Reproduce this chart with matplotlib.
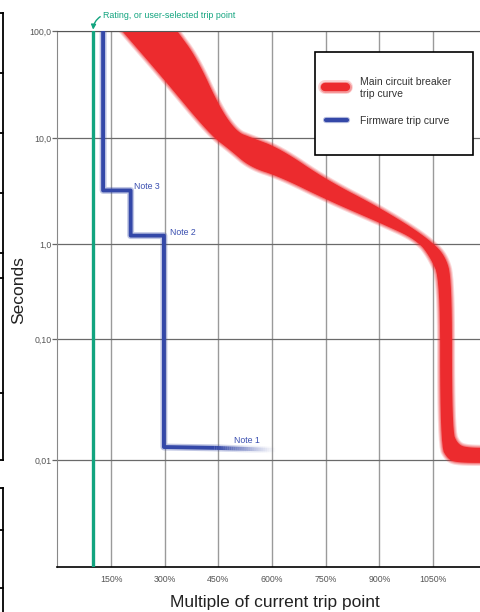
import numpy as np
import matplotlib
matplotlib.use("Agg")
import matplotlib.pyplot as plt
from matplotlib.lines import Line2D
from matplotlib.patches import Rectangle
from matplotlib.collections import LineCollection

plt.rcParams['font.family'] = ['Liberation Sans', 'DejaVu Sans']

# ── Data ──────────────────────────────────────────────────────────
rating_pct = 100

# firmware trip curve (percent of trip point, seconds)
fw_pct = [128, 128, 205, 205, 298, 298, 440]
fw_sec = [150, 3.2, 3.2, 1.2, 1.2, 0.0128, 0.0126]
fw_tail_pct = [440, 615]          # fading end of the curve
fw_tail_sec = [0.0126, 0.0121]

# main breaker band, upper/right edge
mcb_hi_pct = [311, 335, 390, 455, 502, 539, 622, 754, 902, 1033, 1084, 1103, 1103, 1120, 1153, 1220]
mcb_hi_sec = [130, 100, 56, 19, 11.4, 10.2, 8.0, 4.0, 2.2, 1.16, 0.77, 0.42, 0.0177, 0.0133, 0.0126, 0.0126]
# main breaker band, lower/left edge
mcb_lo_pct = [152, 181, 296, 427, 483, 539, 622, 754, 902, 1006, 1042, 1070, 1070, 1092, 1126, 1220]
mcb_lo_sec = [130, 100, 36, 10.7, 7.7, 5.3, 4.3, 2.6, 1.58, 1.09, 0.73, 0.42, 0.0133, 0.0100, 0.0094, 0.0094]

x_ticks = [150, 300, 450, 600, 750, 900, 1050]
x_labels = ["150%", "300%", "450%", "600%", "750%", "900%", "1050%"]
y_ticks = [100, 10, 1, 0.1, 0.01]
y_labels = ["100,0", "10,0", "1,0", "0,10", "0,01"]

notes = [("Note 3", 214, 3.45), ("Note 2", 315, 1.27), ("Note 1", 494, 0.0144)]

RED = "#ec2b2e"
BLUE = "#3448a8"
GREEN = "#12a47f"

# hand-drawn log axis: decades are not evenly spaced
DEC_LOG = [-4, -3, -2, -1, 0, 1, 2, 3]
DEC_POS = [-107, 0, 107, 228, 323, 429, 536, 643]


def fwd(t):
    return np.interp(np.log10(np.clip(t, 1e-9, None)), DEC_LOG, DEC_POS)


def inv(p):
    return 10 ** np.interp(p, DEC_POS, DEC_LOG)


def rounded(xs, ys, passes=3):
    # Chaikin corner cutting in (x, log y) so the drawn edge has soft bends
    pts = np.column_stack([xs, np.log10(ys)])
    for _ in range(passes):
        q = 0.75 * pts[:-1] + 0.25 * pts[1:]
        r = 0.25 * pts[:-1] + 0.75 * pts[1:]
        mid = np.empty((2 * len(q), 2))
        mid[0::2] = q
        mid[1::2] = r
        pts = np.vstack([pts[:1], mid, pts[-1:]])
    return list(pts[:, 0]), list(10 ** pts[:, 1])


W, H = 480, 612
fig = plt.figure(figsize=(W / 100, H / 100), dpi=100)
ax = fig.add_axes([57.3 / W, 45 / H, (W - 57.3) / W, 536 / H])
ax.set_yscale("function", functions=(fwd, inv))
ax.set_xlim(0, (W - 57.3) / 0.3578)
ax.set_ylim(0.001, 100)

# ── Grid / axes ───────────────────────────────────────────────────
ax.set_xticks(x_ticks)
ax.set_xticklabels(x_labels)
ax.set_yticks(y_ticks)
ax.set_yticklabels(y_labels)
ax.yaxis.set_minor_locator(matplotlib.ticker.NullLocator())
ax.xaxis.grid(True, color="#9a9a9a", lw=1.0)
ax.yaxis.grid(True, color="#6a6a6a", lw=0.9)
ax.set_axisbelow(True)
ax.tick_params(axis="x", length=0, pad=6, labelsize=6.3, labelcolor="#555555")
ax.tick_params(axis="y", length=3.5, width=0.9, color="#666666", pad=0.5,
               labelsize=6.3, labelcolor="#555555")
ax.spines["right"].set_visible(False)
ax.spines["left"].set_color("#888888")
ax.spines["top"].set_color("#555555")
ax.spines["bottom"].set_color("black")
ax.spines["bottom"].set_linewidth(1.2)

ax.set_xlabel("Multiple of current trip point", fontsize=12.5, color="#222222")
ax.xaxis.set_label_coords((275 - 57.3) / 422.7, (567 - 602) / 536)
ax.xaxis.label.set_va("center")
ax.set_ylabel("Seconds", fontsize=12.5, color="#222222")
ax.yaxis.set_label_coords((19 - 57.3) / 422.7, (567 - 290) / 536)
ax.yaxis.label.set_va("center")

# ── Main circuit breaker band (soft edges) ────────────────────────
hx, hy = rounded(mcb_hi_pct, mcb_hi_sec)
lx, ly = rounded(mcb_lo_pct, mcb_lo_sec)
band_x = hx + lx[::-1]
band_y = hy + ly[::-1]
ax.fill(band_x, band_y, color=RED, lw=0, zorder=2)
for lw, a in [(4.5, 0.18), (3.0, 0.25), (1.5, 0.35)]:
    ax.fill(band_x, band_y, facecolor="none", edgecolor=RED, lw=lw,
            alpha=a, joinstyle="round", zorder=2)

# ── Rating line ───────────────────────────────────────────────────
ax.axvline(rating_pct, color=GREEN, lw=2.4, zorder=3)

# ── Firmware trip curve ───────────────────────────────────────────
ax.plot(fw_pct, fw_sec, color=BLUE, lw=5, alpha=0.3,
        solid_joinstyle="round", solid_capstyle="butt", zorder=4)
ax.plot(fw_pct, fw_sec, color=BLUE, lw=2.8,
        solid_joinstyle="round", solid_capstyle="butt", zorder=4)

# fading tail
n_fade = 30
tx = np.linspace(fw_tail_pct[0], fw_tail_pct[1], n_fade + 1)
ty = np.geomspace(fw_tail_sec[0], fw_tail_sec[1], n_fade + 1)
segs = [[(tx[i], ty[i]), (tx[i + 1], ty[i + 1])] for i in range(n_fade)]
fade = np.linspace(1, 0, n_fade) ** 1.3
cols = [matplotlib.colors.to_rgba(BLUE, a) for a in fade]
halo = [matplotlib.colors.to_rgba(BLUE, 0.3 * a) for a in fade]
ax.add_collection(LineCollection(segs, colors=halo, linewidths=5, zorder=4))
ax.add_collection(LineCollection(segs, colors=cols, linewidths=2.8, zorder=4))

for txt, xp, ys in notes:
    ax.text(xp, ys, txt, color="#3a4fb0", fontsize=6.3, ha="left", va="center", zorder=5)

# ── Rating annotation ─────────────────────────────────────────────
ax.annotate("Rating, or user-selected trip point", xy=(rating_pct, 100),
            xytext=(103, H - 15), textcoords="figure pixels",
            fontsize=6.4, color=GREEN, ha="left", va="center",
            annotation_clip=False,
            arrowprops=dict(arrowstyle="-|>", color=GREEN, lw=1.0,
                            mutation_scale=7, shrinkA=0, shrinkB=1,
                            connectionstyle="arc3,rad=0.3",
                            relpos=(0, 0.5)))

# ── Legend box (drawn by hand to match the padding) ───────────────
def ax_x(px):
    return (px - 57.3) / 422.7


def ax_y(py):
    return (567 - py) / 536


ax.add_patch(Rectangle((ax_x(315), ax_y(155)), ax_x(473) - ax_x(315),
                       ax_y(52) - ax_y(155), transform=ax.transAxes,
                       facecolor="white", edgecolor="black", lw=1.2, zorder=6))
for lw, a in [(10, 0.2), (8, 0.35), (6, 1.0)]:
    ax.plot([ax_x(325), ax_x(346)], [ax_y(87), ax_y(87)], transform=ax.transAxes,
            color=RED, lw=lw, alpha=a, solid_capstyle="round", zorder=7)
for lw, a in [(4.5, 0.35), (3, 1.0)]:
    ax.plot([ax_x(326), ax_x(347)], [ax_y(120), ax_y(120)], transform=ax.transAxes,
            color=BLUE, lw=lw, alpha=a, solid_capstyle="round", zorder=7)
ax.text(ax_x(360), ax_y(88), "Main circuit breaker\ntrip curve", transform=ax.transAxes,
        fontsize=7.5, color="#333333", ha="left", va="center", linespacing=1.25, zorder=7)
ax.text(ax_x(360), ax_y(121), "Firmware trip curve", transform=ax.transAxes,
        fontsize=7.5, color="#333333", ha="left", va="center", zorder=7)

# ── Cropped neighbour frame at the far left ───────────────────────
def fig_line(xs, ys):
    fig.add_artist(Line2D([x / W for x in xs], [1 - y / H for y in ys],
                          transform=fig.transFigure, color="black", lw=1.3))


fig_line([3, 3], [13, 460])
fig_line([3, 3], [488, 612])
for yy in [13, 73, 133, 193, 253, 278, 393, 460, 488, 530, 588]:
    fig_line([0, 3], [yy, yy])

fig.savefig("out.png", dpi=100)
